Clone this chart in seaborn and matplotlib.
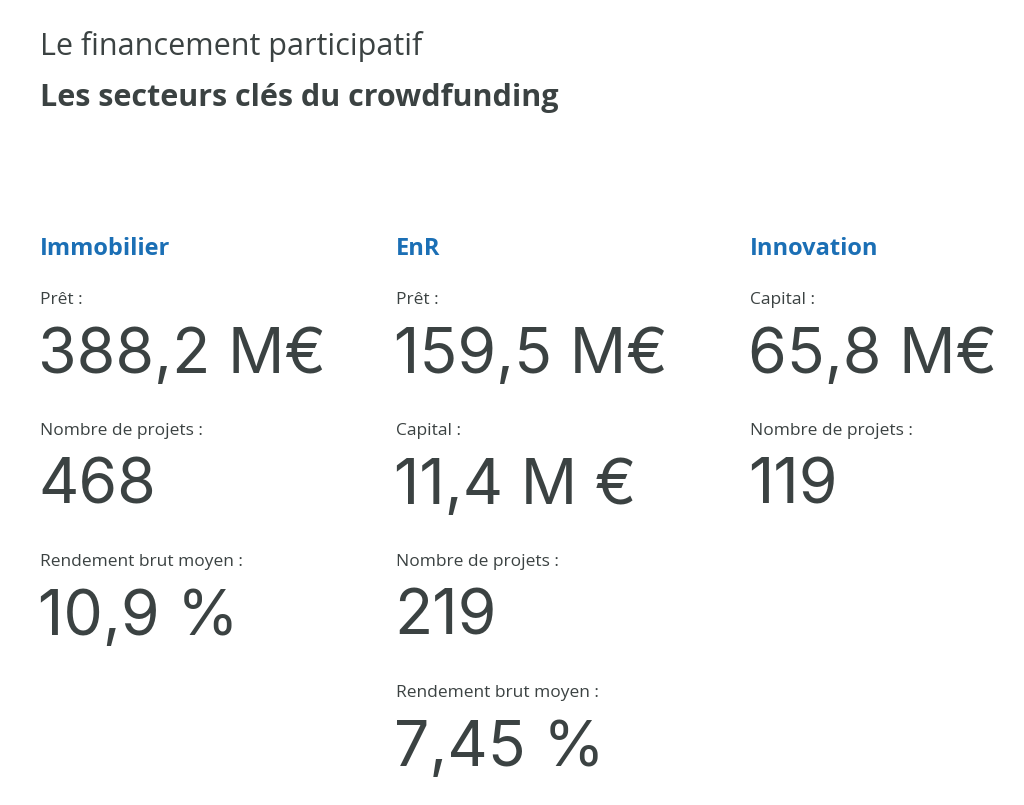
import matplotlib
matplotlib.use("Agg")
import matplotlib.pyplot as plt
import seaborn as sns

sns.set_theme(style="white")
plt.rcParams['font.family'] = ['Open Sans', 'DejaVu Sans']

title = "Le financement participatif"
subtitle = "Les secteurs clés du crowdfunding"
sectors = ["Immobilier", "EnR", "Innovation"]
labels = [
    ["Prêt :", "Nombre de projets :", "Rendement brut moyen :"],
    ["Prêt :", "Capital :", "Nombre de projets :", "Rendement brut moyen :"],
    ["Capital :", "Nombre de projets :"],
]
values = [
    ["388,2 M€", "468", "10,9 %"],
    ["159,5 M€", "11,4 M €", "219", "7,45 %"],
    ["65,8 M€", "119"],
]

W, H = 1024, 805
fig = plt.figure(figsize=(W / 100, H / 100), dpi=100)
ax = fig.add_axes([0, 0, 1, 1])
ax.set_xlim(0, W)
ax.set_ylim(H, 0)
ax.axis("off")

dark = "#3b4242"
blue = "#1b6fb5"
ax.text(40, 47, title, fontsize=22, color=dark, va="center")
ax.text(40, 98, subtitle, fontsize=22, color=dark, va="center", fontweight="bold")

col_x = [40, 396, 750]
for cx, sec, labs, vals in zip(col_x, sectors, labels, values):
    ax.text(cx, 249, sec, fontsize=17, color=blue, va="center", fontweight="bold")
    for i, (l, v) in enumerate(zip(labs, vals)):
        y0 = 300 + 131 * i
        ax.text(cx, y0, l, fontsize=12.5, color=dark, va="center")
        ax.text(cx - 2, y0 + 56, v, fontsize=45, color=dark, va="center",
                family=['Inter', 'DejaVu Sans'])

fig.savefig("out.png", dpi=100, facecolor="white")
